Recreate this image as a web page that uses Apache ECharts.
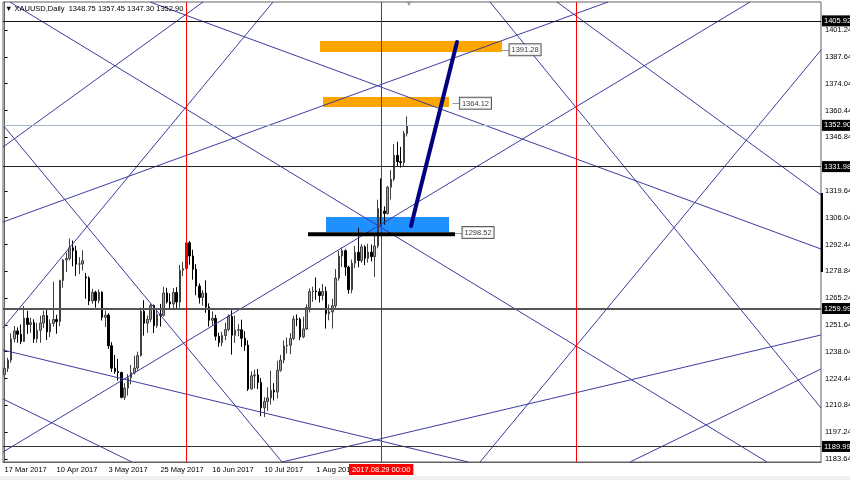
<!DOCTYPE html>
<html>
<head>
<meta charset="utf-8">
<script src="https://cdn.jsdelivr.net/npm/echarts/dist/echarts.min.js"></script>
<style>
html,body{margin:0;padding:0;background:#fff;}
#c{width:850px;height:480px;}
</style>
</head>
<body>
<div id="c"></div>
<script>
// ---------------- DATA ----------------
// daily candles: [date, open, high, low, close]
const candles = [
 ['2017.03.17',1226.5,1233.5,1224.8,1229.6],
 ['2017.03.20',1229.6,1235.0,1227.8,1233.8],
 ['2017.03.21',1233.8,1247.4,1232.5,1244.6],
 ['2017.03.22',1244.6,1251.1,1242.8,1248.6],
 ['2017.03.23',1248.6,1250.4,1242.6,1246.9],
 ['2017.03.24',1246.9,1251.9,1241.9,1243.3],
 ['2017.03.27',1243.3,1261.2,1243.0,1255.1],
 ['2017.03.28',1255.1,1258.8,1247.1,1251.9],
 ['2017.03.29',1251.9,1255.4,1247.6,1252.8],
 ['2017.03.30',1252.8,1254.5,1242.5,1244.6],
 ['2017.03.31',1244.6,1252.7,1242.6,1248.9],
 ['2017.04.03',1248.9,1256.3,1242.6,1252.6],
 ['2017.04.04',1252.6,1258.9,1250.0,1256.4],
 ['2017.04.05',1256.4,1259.4,1244.0,1248.1],
 ['2017.04.06',1248.1,1254.5,1245.5,1252.4],
 ['2017.04.07',1252.4,1273.6,1250.8,1254.4],
 ['2017.04.10',1254.4,1256.8,1247.2,1253.4],
 ['2017.04.11',1253.4,1274.6,1251.0,1274.2],
 ['2017.04.12',1274.2,1285.1,1270.5,1284.6],
 ['2017.04.13',1284.6,1288.3,1278.5,1285.4],
 ['2017.04.17',1285.4,1295.5,1284.4,1290.8],
 ['2017.04.18',1290.8,1294.5,1281.4,1289.3],
 ['2017.04.19',1289.3,1291.8,1276.5,1282.5],
 ['2017.04.20',1282.5,1286.0,1277.4,1282.6],
 ['2017.04.21',1282.6,1289.5,1279.3,1284.2],
 ['2017.04.24',1276.0,1278.0,1264.9,1275.5],
 ['2017.04.25',1275.5,1276.3,1261.7,1263.8],
 ['2017.04.26',1263.8,1270.0,1262.4,1268.2],
 ['2017.04.27',1268.2,1269.0,1260.4,1264.0],
 ['2017.04.28',1264.0,1269.6,1262.6,1268.3],
 ['2017.05.01',1268.3,1268.6,1253.9,1255.5],
 ['2017.05.02',1255.5,1258.9,1250.6,1256.6],
 ['2017.05.03',1256.6,1257.6,1239.5,1241.1],
 ['2017.05.04',1241.1,1242.9,1227.8,1229.7],
 ['2017.05.05',1229.7,1236.4,1226.9,1228.0],
 ['2017.05.08',1228.0,1234.5,1223.4,1227.5],
 ['2017.05.09',1227.5,1227.9,1214.4,1214.9],
 ['2017.05.10',1214.9,1222.1,1213.6,1219.6],
 ['2017.05.11',1219.6,1226.7,1215.8,1224.8],
 ['2017.05.12',1224.8,1231.3,1221.5,1227.5],
 ['2017.05.15',1227.5,1236.0,1226.5,1229.8],
 ['2017.05.16',1229.8,1238.1,1228.5,1236.1],
 ['2017.05.17',1236.1,1260.4,1235.6,1258.6],
 ['2017.05.18',1258.6,1264.2,1246.2,1252.5],
 ['2017.05.19',1252.5,1256.5,1247.7,1254.5],
 ['2017.05.22',1254.5,1262.6,1253.1,1261.5],
 ['2017.05.23',1261.5,1262.0,1247.5,1251.3],
 ['2017.05.24',1251.3,1260.3,1250.2,1257.0],
 ['2017.05.25',1257.0,1262.3,1250.8,1256.5],
 ['2017.05.26',1256.5,1271.0,1255.9,1267.9],
 ['2017.05.29',1267.9,1270.5,1262.5,1263.3],
 ['2017.05.30',1263.3,1267.7,1260.1,1262.3],
 ['2017.05.31',1262.3,1270.4,1260.0,1268.1],
 ['2017.06.01',1268.1,1270.8,1259.6,1263.3],
 ['2017.06.02',1263.3,1282.1,1260.4,1279.4],
 ['2017.06.05',1279.4,1283.6,1276.4,1280.2],
 ['2017.06.06',1280.2,1296.0,1279.4,1293.3],
 ['2017.06.07',1293.3,1294.3,1282.2,1286.6],
 ['2017.06.08',1286.6,1289.8,1274.6,1279.9],
 ['2017.06.09',1279.9,1282.5,1266.7,1271.4],
 ['2017.06.12',1271.4,1272.7,1262.5,1265.6],
 ['2017.06.13',1265.6,1269.3,1261.4,1267.8],
 ['2017.06.14',1267.8,1274.3,1257.8,1260.7],
 ['2017.06.15',1260.7,1262.6,1250.8,1254.0],
 ['2017.06.16',1254.0,1258.5,1251.3,1255.0],
 ['2017.06.19',1255.0,1256.8,1243.8,1245.9],
 ['2017.06.20',1245.9,1247.7,1240.6,1242.7],
 ['2017.06.21',1242.7,1248.1,1240.8,1246.3],
 ['2017.06.22',1246.3,1252.9,1243.9,1249.3],
 ['2017.06.23',1249.3,1257.0,1248.4,1256.0],
 ['2017.06.26',1256.0,1259.1,1236.6,1246.4],
 ['2017.06.27',1246.4,1256.4,1242.5,1249.0],
 ['2017.06.28',1249.0,1252.0,1245.9,1249.2],
 ['2017.06.29',1249.2,1254.3,1240.5,1244.9],
 ['2017.06.30',1244.9,1248.5,1238.5,1241.4],
 ['2017.07.03',1241.4,1243.8,1218.1,1219.1],
 ['2017.07.04',1219.1,1228.1,1219.0,1225.8],
 ['2017.07.05',1225.8,1229.0,1219.5,1226.3],
 ['2017.07.06',1226.3,1229.3,1219.1,1222.5],
 ['2017.07.07',1222.5,1224.7,1205.3,1209.6],
 ['2017.07.10',1209.6,1215.0,1204.9,1212.8],
 ['2017.07.11',1212.8,1220.0,1208.0,1214.6],
 ['2017.07.12',1214.6,1228.5,1211.2,1218.5],
 ['2017.07.13',1218.5,1222.1,1213.3,1217.6],
 ['2017.07.14',1217.6,1233.5,1214.3,1228.6],
 ['2017.07.17',1228.6,1236.5,1227.9,1233.8],
 ['2017.07.18',1233.8,1243.7,1232.2,1241.0],
 ['2017.07.19',1241.0,1245.3,1237.2,1241.3],
 ['2017.07.20',1241.3,1247.5,1236.8,1244.8],
 ['2017.07.21',1244.8,1256.3,1244.0,1254.6],
 ['2017.07.24',1254.6,1257.0,1251.0,1254.5],
 ['2017.07.25',1254.5,1255.4,1243.9,1245.6],
 ['2017.07.26',1245.6,1255.8,1244.9,1249.6],
 ['2017.07.27',1249.6,1262.1,1249.1,1260.5],
 ['2017.07.28',1260.5,1270.2,1258.0,1268.6],
 ['2017.07.31',1268.6,1271.0,1263.3,1268.9],
 ['2017.08.01',1268.9,1275.7,1264.4,1268.5],
 ['2017.08.02',1268.5,1270.2,1263.0,1266.6],
 ['2017.08.03',1266.6,1272.4,1264.1,1268.6],
 ['2017.08.04',1268.6,1271.0,1249.8,1257.3],
 ['2017.08.07',1257.3,1262.0,1254.0,1258.3],
 ['2017.08.08',1258.3,1265.0,1249.8,1261.4],
 ['2017.08.09',1261.4,1280.0,1260.0,1275.4],
 ['2017.08.10',1275.4,1289.2,1274.1,1286.6],
 ['2017.08.11',1286.6,1290.9,1281.0,1289.3],
 ['2017.08.14',1289.3,1290.0,1276.6,1281.0],
 ['2017.08.15',1281.0,1281.7,1267.5,1269.5],
 ['2017.08.16',1269.5,1284.8,1267.7,1283.0],
 ['2017.08.17',1283.0,1291.8,1280.5,1288.5],
 ['2017.08.18',1288.5,1300.9,1280.9,1284.3],
 ['2017.08.21',1284.3,1292.7,1283.1,1291.3],
 ['2017.08.22',1291.3,1292.1,1282.0,1285.5],
 ['2017.08.23',1285.5,1292.8,1283.3,1288.6],
 ['2017.08.24',1288.6,1292.4,1283.9,1286.3],
 ['2017.08.25',1286.3,1298.2,1276.0,1291.7],
 ['2017.08.28',1291.7,1315.2,1290.5,1310.8],
 ['2017.08.29',1310.8,1326.0,1302.0,1309.4],
 ['2017.08.30',1309.4,1311.8,1302.5,1308.2],
 ['2017.08.31',1308.2,1322.2,1307.6,1321.5],
 ['2017.09.01',1321.5,1330.2,1315.3,1325.6],
 ['2017.09.04',1325.6,1343.5,1324.6,1337.7],
 ['2017.09.05',1337.7,1344.6,1332.3,1334.5],
 ['2017.09.06',1334.5,1342.0,1331.5,1334.0],
 ['2017.09.07',1334.0,1350.1,1332.0,1348.8],
 ['2017.09.08',1348.75,1357.45,1347.30,1352.90]
];
const futureBars = 127;               // empty bars to the right of the last candle
const symbolName = 'XAUUSD,Daily';

// y axis
const yMin = 1182.1, yMax = 1415.5;
const yTickLabels = [1183.64,1197.24,1210.84,1224.44,1238.04,1251.64,1265.24,1278.84,1292.44,1306.04,1319.64,1346.84,1360.44,1374.04,1387.64,1401.24];
// x axis tick labels every 16 bars
const xTickEvery = 16;
const xTickLabels = ['17 Mar 2017','10 Apr 2017','3 May 2017','25 May 2017','16 Jun 2017','10 Jul 2017','1 Aug 2017'];

// horizontal price levels
const hLinePrices = [1405.92, 1331.98, 1259.99, 1189.99];
// vertical time lines (bar index)
const vLineBars = [56, 116, 176];
const vLineLabelBar = 116;

// trend lines [bar1, price1, bar2, price2]
const trendLines = [
 [1.66,1415.5, 234.87,1182.1],
 [-0.5,1341.93, 61.11,1415.5],
 [-0.5,1303.87, 185.88,1415.5],
 [82.68,1415.5, -0.5,1250.09],
 [-0.5,1187.17, 229.63,1415.5],
 [-0.5,1353.09, 85.45,1182.1],
 [44.79,1415.5, 251.5,1290.17],
 [149.53,1415.5, 251.5,1209.5],
 [170.17,1415.5, 251.5,1317.57],
 [251.5,1391.15, 146.45,1182.1],
 [85.45,1182.1, 251.5,1246.54],
 [192.66,1182.1, 251.5,1229.29],
 [-0.5,1238.93, 142.75,1182.1],
 [-0.5,1214.07, 39.24,1182.1]
];
// zones [bar1, priceTop, bar2, priceBottom]
const orangeZones = [[97.16,1395.7, 153.23,1390.13],[98.08,1367.3, 136.9,1362.22]];
const blueZones = [[99.01,1306.41, 136.9,1298.8]];
// support segment [bar1, price, bar2, price]
const supportLine = [93.46,1297.6, 138.75,1297.6];
// projection (thick navy) [bar1, price1, bar2, price2]
const projectionLine = [125.19,1301.84, 139.36,1395.2];
// price labels [bar, price]
const priceLabels = [[153.23,1391.28],[137.94,1364.12],[138.75,1298.52]];
// black range marker on the price scale [low, high]
const scaleRange = [1278.5, 1318.6];

// ---------------- CHART ----------------
const FONT = '"Liberation Sans", Arial, sans-serif';
const FS = 7.5;
const totalBars = candles.length + futureBars;
const categories = candles.map(r => r[0]).concat(Array.from({length: futureBars}, (_, i) => '+' + (i + 1)));
const kData = candles.map(r => [r[1], r[4], r[3], r[2]]);
const last = candles[candles.length - 1];
const currentPrice = last[4];
const header = symbolName + '  ' + [last[1], last[2], last[3], last[4]].map(v => v.toFixed(2)).join(' ');

const LINE_COLOR = '#3b3ba0';
const blackBox = {show: true, position: 'end', distance: 1, backgroundColor: '#000', color: '#fff',
  fontSize: FS, fontFamily: FONT, padding: [2, 2, 1, 2]};
const hLineStyles = [
  {color: '#111', width: 1},
  {color: '#222', width: 1.2},
  {color: '#555', width: 2},
  {color: '#333', width: 1}
];

const series = [];

// zones (behind candles)
series.push({
  type: 'line', xAxisIndex: 1, yAxisIndex: 0, z: 1, silent: true, symbol: 'none',
  data: [[-10, 1200]], lineStyle: {opacity: 0},
  markArea: {
    silent: true,
    data: orangeZones.map(z => [{coord: [z[0], z[1]], itemStyle: {color: '#ffa500', opacity: 1}}, {coord: [z[2], z[3]]}])
      .concat(blueZones.map(z => [{coord: [z[0], z[1]], itemStyle: {color: '#1e90ff', opacity: 1}}, {coord: [z[2], z[3]]}]))
  }
});

// candles + horizontal levels
series.push({
  type: 'candlestick', xAxisIndex: 0, yAxisIndex: 0, z: 3, silent: true,
  data: kData, barWidth: 2,
  itemStyle: {color: '#a0a0a0', color0: '#000', borderColor: '#404040', borderColor0: '#000', borderWidth: 1},
  markLine: {
    silent: true, symbol: ['none', 'none'], animation: false,
    label: {show: false},
    data: hLinePrices.map((p, i) => ({
      yAxis: p, lineStyle: {type: 'solid', color: hLineStyles[i].color, width: hLineStyles[i].width},
      label: Object.assign({formatter: p.toFixed(2)}, blackBox)
    })).concat([{
      yAxis: currentPrice, lineStyle: {type: 'solid', color: '#a3b4c6', width: 1},
      label: Object.assign({formatter: currentPrice.toFixed(2)}, blackBox)
    }])
  }
});

// trend lines
trendLines.forEach(t => {
  series.push({
    type: 'line', xAxisIndex: 1, yAxisIndex: 0, z: 4, silent: true, symbol: 'none',
    data: [[t[0], t[1]], [t[2], t[3]]],
    lineStyle: {color: LINE_COLOR, width: 1}
  });
});

// support thick black segment
series.push({
  type: 'line', xAxisIndex: 1, yAxisIndex: 0, z: 5, silent: true, symbol: 'none',
  data: [[supportLine[0], supportLine[1]], [supportLine[2], supportLine[3]]],
  lineStyle: {color: '#000', width: 4}
});
// projection thick navy
series.push({
  type: 'line', xAxisIndex: 1, yAxisIndex: 0, z: 5, silent: true, symbol: 'none',
  data: [[projectionLine[0], projectionLine[1]], [projectionLine[2], projectionLine[3]]],
  lineStyle: {color: '#00007f', width: 4, cap: 'round'}
});

// vertical red lines
series.push({
  type: 'line', xAxisIndex: 1, yAxisIndex: 0, z: 6, silent: true, symbol: 'none',
  data: [[-10, 1200]], lineStyle: {opacity: 0}, itemStyle: {color: '#ff0000'},
  markLine: {
    silent: true, symbol: ['none', 'none'], animation: false,
    lineStyle: {type: 'solid', color: '#ff0000', width: 1},
    label: {show: false},
    data: vLineBars.map(b => ({
      xAxis: b,
      lineStyle: {type: 'solid', color: '#ff0000', width: 1},
      label: b === vLineLabelBar ? {
        show: true, position: 'start', distance: 2, formatter: categories[b] + ' 00:00',
        backgroundColor: '#ff0000', color: '#fff', fontSize: FS, fontFamily: FONT, padding: [2, 3, 1, 3]
      } : {show: false}
    }))
  }
});

// price labels
series.push({
  type: 'scatter', xAxisIndex: 1, yAxisIndex: 0, z: 7, silent: true, symbolSize: 0,
  data: priceLabels.map(p => [p[0], p[1]]),
  label: {
    show: true, position: 'right', distance: 0,
    formatter: p => '{d|\u2014}{b|' + p.value[1].toFixed(2) + '}',
    rich: {
      d: {color: '#000', fontSize: FS, fontFamily: FONT},
      b: {color: '#000', fontSize: FS, fontFamily: FONT, backgroundColor: '#fff', borderColor: '#333', borderWidth: 1, padding: [2, 2, 1, 2]}
    }
  }
});

// black range marker on price scale
series.push({
  type: 'line', xAxisIndex: 1, yAxisIndex: 0, z: 8, silent: true, symbol: 'none', clip: false,
  data: [[totalBars - 0.5 + 0.4, scaleRange[0]], [totalBars - 0.5 + 0.4, scaleRange[1]]],
  lineStyle: {color: '#000', width: 3}
});

const option = {
  animation: false,
  backgroundColor: '#fff',
  textStyle: {fontFamily: FONT},
  grid: {left: 3, right: 29, top: 2, bottom: 18, show: true, borderColor: '#606060', borderWidth: 1,
    backgroundColor: '#fff', containLabel: false, outerBoundsMode: 'none'},
  title: {
    text: '\u25BC ' + header, left: 5, top: 5, padding: 0,
    textStyle: {fontSize: FS, fontWeight: 'normal', color: '#000', fontFamily: FONT}
  },
  xAxis: [{
    type: 'category', data: categories, boundaryGap: true,
    axisLine: {show: true, lineStyle: {color: '#606060', width: 1}},
    axisTick: {show: false},
    splitLine: {show: false},
    axisLabel: {
      show: true, align: 'left', margin: 4, fontSize: FS, color: '#000', fontFamily: FONT,
      hideOverlap: false,
      interval: (i) => i % xTickEvery === 0 && i / xTickEvery < xTickLabels.length,
      formatter: (v, i) => xTickLabels[i / xTickEvery] || ''
    }
  }, {
    type: 'value', min: -0.5, max: totalBars - 0.5, show: false
  }],
  yAxis: [{
    type: 'value', position: 'right', min: yMin, max: yMax,
    splitLine: {show: false},
    axisLine: {show: true, lineStyle: {color: '#606060', width: 1}},
    axisTick: {show: true, length: 3, lineStyle: {color: '#000'}, customValues: yTickLabels},
    axisLabel: {show: true, margin: 4, fontSize: FS, color: '#000', fontFamily: FONT,
      hideOverlap: false, customValues: yTickLabels, formatter: v => v.toFixed(2)}
  }],
  graphic: [
    {type: 'rect', left: 0, top: 476, shape: {width: 850, height: 4}, style: {fill: '#efefef'}, silent: true},
    {type: 'text', left: 405, top: 0, style: {text: '\u25BC', fill: '#999', font: '8px ' + FONT}, silent: true}
  ],
  series: series
};

const chart = echarts.init(document.getElementById('c'));
chart.setOption(option);
</script>
</body>
</html>
